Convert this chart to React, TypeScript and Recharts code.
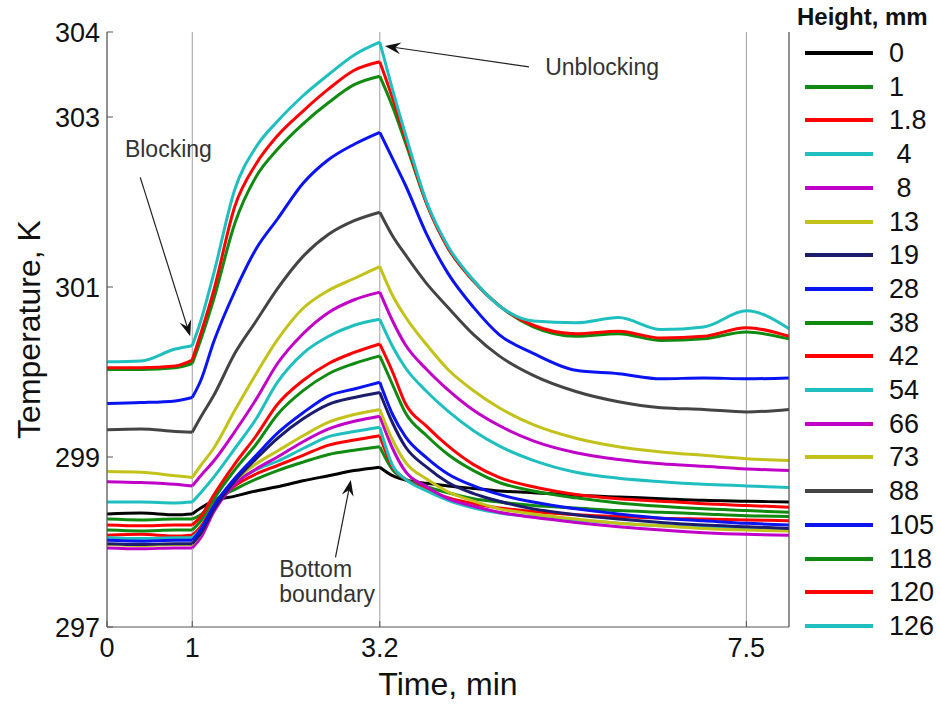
import { LineChart, Line, XAxis, YAxis, CartesianGrid, ReferenceLine, ReferenceDot } from 'recharts'

// time axis, min
const times = [0, 0.4, 0.8, 1, 1.1, 1.25, 1.5, 1.75, 2, 2.3, 2.6, 2.9, 3.2, 3.35, 3.5, 3.75, 4, 4.3, 4.6, 5, 5.5, 6, 6.5, 7, 7.5, 8]

// legend labels (height, mm) and line colours
const heights = ['0', '1', '1.8', ' 4', ' 8', '13', '19', '28', '38', '42', '54', '66', '73', '88', '105', '118', '120', '126']
const colors = ['#000000', '#108a10', '#ff0000', '#1fbfbf', '#c000c8', '#c2c21a', '#1c1c6e', '#0a14f0', '#108a10', '#ff0000', '#1fbfbf', '#c000c8', '#c2c21a', '#444444', '#0a14f0', '#108a10', '#ff0000', '#1fbfbf']

// temperature, K
const h0 = [298.33, 298.34, 298.32, 298.33, 298.4, 298.48, 298.54, 298.6, 298.65, 298.72, 298.78, 298.84, 298.88, 298.78, 298.73, 298.69, 298.66, 298.63, 298.6, 298.58, 298.55, 298.53, 298.51, 298.49, 298.48, 298.47]
const h1 = [298.27, 298.26, 298.27, 298.27, 298.32, 298.48, 298.62, 298.74, 298.84, 298.94, 299.03, 299.08, 299.12, 298.85, 298.74, 298.65, 298.58, 298.51, 298.47, 298.43, 298.4, 298.37, 298.35, 298.33, 298.31, 298.3]
const h1_8 = [298.08, 298.09, 298.07, 298.08, 298.18, 298.43, 298.66, 298.8, 298.9, 299.02, 299.14, 299.2, 299.25, 298.88, 298.74, 298.62, 298.52, 298.45, 298.4, 298.36, 298.32, 298.3, 298.28, 298.27, 298.26, 298.25]
const h4 = [298.05, 298.04, 298.05, 298.05, 298.15, 298.42, 298.7, 298.85, 298.95, 299.1, 299.24, 299.3, 299.35, 298.9, 298.74, 298.6, 298.49, 298.4, 298.34, 298.3, 298.26, 298.22, 298.19, 298.17, 298.16, 298.15]
const h8 = [297.93, 297.92, 297.93, 297.93, 298.05, 298.35, 298.68, 298.86, 299.0, 299.18, 299.33, 299.42, 299.48, 299.1, 298.83, 298.65, 298.51, 298.42, 298.35, 298.29, 298.23, 298.18, 298.14, 298.11, 298.09, 298.08]
const h13 = [297.97, 297.96, 297.97, 297.97, 298.1, 298.4, 298.72, 298.92, 299.07, 299.25, 299.41, 299.5, 299.56, 299.2, 298.94, 298.74, 298.59, 298.48, 298.39, 298.33, 298.27, 298.22, 298.19, 298.16, 298.14, 298.13]
const h19 = [297.98, 297.97, 297.98, 297.98, 298.1, 298.38, 298.72, 298.98, 299.22, 299.45, 299.62, 299.7, 299.76, 299.4, 299.12, 298.88, 298.7, 298.57, 298.48, 298.39, 298.32, 298.27, 298.23, 298.2, 298.18, 298.16]
const h28 = [298.02, 298.01, 298.02, 298.02, 298.15, 298.42, 298.75, 299.02, 299.28, 299.52, 299.72, 299.8, 299.88, 299.5, 299.24, 298.99, 298.8, 298.66, 298.56, 298.47, 298.39, 298.33, 298.28, 298.25, 298.22, 298.2]
const h38 = [298.14, 298.13, 298.14, 298.14, 298.25, 298.5, 298.85, 299.15, 299.5, 299.78, 299.98, 300.1, 300.19, 299.85, 299.52, 299.25, 299.03, 298.84, 298.7, 298.6, 298.52, 298.46, 298.42, 298.39, 298.37, 298.35]
const h42 = [298.2, 298.19, 298.2, 298.2, 298.3, 298.55, 298.92, 299.25, 299.62, 299.9, 300.1, 300.23, 300.33, 300.0, 299.63, 299.36, 299.13, 298.91, 298.76, 298.65, 298.56, 298.51, 298.48, 298.45, 298.43, 298.41]
const h54 = [298.47, 298.47, 298.46, 298.47, 298.58, 298.76, 299.1, 299.45, 299.88, 300.22, 300.42, 300.55, 300.62, 300.3, 300.05, 299.77, 299.54, 299.31, 299.13, 298.96, 298.82, 298.75, 298.71, 298.68, 298.66, 298.64]
const h66 = [298.71, 298.7, 298.68, 298.66, 298.78, 298.95, 299.3, 299.68, 300.1, 300.45, 300.7, 300.85, 300.94, 300.6, 300.32, 300.03, 299.79, 299.55, 299.37, 299.19, 299.05, 298.97, 298.92, 298.89, 298.86, 298.84]
const h73 = [298.83, 298.82, 298.78, 298.76, 298.9, 299.1, 299.55, 299.98, 300.38, 300.75, 300.96, 301.1, 301.24, 300.9, 300.65, 300.32, 300.03, 299.78, 299.58, 299.38, 299.22, 299.12, 299.06, 299.02, 298.98, 298.96]
const h88 = [299.32, 299.33, 299.3, 299.29, 299.47, 299.72, 300.22, 300.6, 300.98, 301.36, 301.62, 301.78, 301.88, 301.6, 301.38, 301.04, 300.76, 300.44, 300.19, 299.96, 299.77, 299.65, 299.58, 299.56, 299.53, 299.56]
const h105 = [299.63, 299.64, 299.66, 299.7, 299.9, 300.35, 300.95, 301.45, 301.8, 302.22, 302.5, 302.68, 302.82, 302.51, 302.2, 301.62, 301.16, 300.76, 300.44, 300.22, 300.02, 299.98, 299.92, 299.93, 299.92, 299.93]
const h118 = [300.03, 300.03, 300.05, 300.1, 300.38, 300.85, 301.75, 302.3, 302.62, 302.92, 303.17, 303.38, 303.48, 303.12, 302.7, 301.98, 301.46, 301.07, 300.78, 300.53, 300.42, 300.45, 300.37, 300.39, 300.47, 300.39]
const h120 = [300.05, 300.05, 300.07, 300.14, 300.45, 300.95, 301.95, 302.45, 302.78, 303.07, 303.33, 303.55, 303.65, 303.22, 302.75, 301.98, 301.46, 301.07, 300.78, 300.55, 300.45, 300.48, 300.4, 300.42, 300.52, 300.42]
const h126 = [300.12, 300.13, 300.27, 300.31, 300.6, 301.15, 302.15, 302.65, 302.95, 303.25, 303.5, 303.73, 303.88, 303.32, 302.8, 302.0, 301.48, 301.08, 300.78, 300.6, 300.58, 300.64, 300.5, 300.53, 300.72, 300.51]

const seriesValues = [h0, h1, h1_8, h4, h8, h13, h19, h28, h38, h42, h54, h66, h73, h88, h105, h118, h120, h126]

const xTicks = [0, 1, 3.2, 7.5]
const yTicks = [297, 299, 301, 303, 304]

// blocking / unblocking instants split each record into three smooth pieces
const tBlock = 1
const tUnblock = 3.2

// annotation arrows: [from, to] in (min, K)
const blockingArrow = [{ x: 0.39, y: 302.29 }, { x: 0.976, y: 300.42 }]
const unblockingArrow = [{ x: 4.95, y: 303.59 }, { x: 3.26, y: 303.835 }]
const bottomArrow = [{ x: 2.68, y: 297.82 }, { x: 2.86, y: 298.73 }]

const rows = times.map((t, i) => {
  const row: Record<string, number | undefined> = { t }
  seriesValues.forEach((v, k) => {
    row['a' + k] = t <= tBlock ? v[i] : undefined
    row['b' + k] = t >= tBlock && t <= tUnblock ? v[i] : undefined
    row['c' + k] = t >= tUnblock ? v[i] : undefined
  })
  return row
})

const font = '"Liberation Sans", Arial, sans-serif'

const Arrow = (props: any) => {
  const { x1, y1, x2, y2 } = props
  const a = Math.atan2(y2 - y1, x2 - x1)
  const c = Math.cos(a)
  const s = Math.sin(a)
  const len = 16
  const w = 6
  const bx = x2 - len * c
  const by = y2 - len * s
  const nx = x2 - len * 0.65 * c
  const ny = y2 - len * 0.65 * s
  const pts = `${x2},${y2} ${bx + w * s},${by - w * c} ${nx},${ny} ${bx - w * s},${by + w * c}`
  return (
    <g>
      <line x1={x1} y1={y1} x2={nx} y2={ny} stroke='#222' strokeWidth={1.2} />
      <polygon points={pts} fill='#111' />
    </g>
  )
}

const note = (lines: string[]) => (p: any) => (
  <text x={p.cx} y={p.cy} fontSize={23} fill='#333' fontFamily={font}>
    {lines.map((l, i) => (
      <tspan key={i} x={p.cx} dy={i === 0 ? 0 : 25}>
        {l}
      </tspan>
    ))}
  </text>
)

export default function App() {
  return (
    <div
      style={{
        position: 'absolute',
        left: 0,
        top: 0,
        width: 940,
        height: 704,
        background: '#fff',
        fontFamily: font,
      }}
    >
      <LineChart width={940} height={704} data={rows} margin={{ top: 32, right: 150, bottom: 0, left: 0 }}>
        <CartesianGrid horizontal={false} stroke='#a0a0a0' />
        <XAxis
          type='number'
          dataKey='t'
          domain={[0, 8]}
          ticks={xTicks}
          interval={0}
          height={77}
          tickSize={-6}
          tickMargin={17}
          stroke='#555'
          tick={{ fontSize: 27, fill: '#111' }}
          label={{
            content: (p: any) => (
              <text
                x={p.viewBox.x + p.viewBox.width / 2}
                y={p.viewBox.y + 68}
                textAnchor='middle'
                fontSize={32}
                fill='#111'
              >
                Time, min
              </text>
            ),
          }}
        />
        <XAxis xAxisId='t' orientation='top' type='number' domain={[0, 8]} ticks={xTicks} height={0} tick={false} tickLine={false} stroke='#555' />
        <YAxis
          type='number'
          domain={[297, 304]}
          ticks={yTicks}
          interval={0}
          width={107}
          tickSize={-6}
          tickMargin={13}
          stroke='#555'
          tick={{ fontSize: 27, fill: '#111' }}
          label={{
            content: (p: any) => {
              const cx = p.viewBox.x + 29
              const cy = p.viewBox.y + p.viewBox.height / 2
              return (
                <text
                  x={cx}
                  y={cy}
                  transform={`rotate(-90 ${cx} ${cy})`}
                  textAnchor='middle'
                  dominantBaseline='central'
                  fontSize={32}
                  fill='#111'
                >
                  Temperature, K
                </text>
              )
            },
          }}
        />
        <YAxis yAxisId='r' orientation='right' type='number' domain={[297, 304]} ticks={yTicks} width={1} tick={false} tickSize={-6} stroke='#555' />
        {seriesValues.map((_, k) =>
          ['a', 'b', 'c'].map((part) => (
            <Line
              key={part + k}
              type='monotone'
              dataKey={part + k}
              name={heights[k]}
              stroke={colors[k]}
              strokeWidth={3}
              dot={false}
              isAnimationActive={false}
            />
          ))
        )}
        <ReferenceLine segment={blockingArrow} shape={Arrow} />
        <ReferenceLine segment={unblockingArrow} shape={Arrow} />
        <ReferenceLine segment={bottomArrow} shape={Arrow} />
        <ReferenceDot x={0.21} y={302.53} shape={note(['Blocking'])} />
        <ReferenceDot x={5.14} y={303.49} shape={note(['Unblocking'])} />
        <ReferenceDot x={2.02} y={297.59} shape={note(['Bottom', 'boundary'])} />
      </LineChart>
      <div style={{ position: 'absolute', left: 797, top: 5, fontSize: 24, fontWeight: 'bold', lineHeight: '24px', color: '#111' }}>
        Height, mm
      </div>
      {heights.map((h, i) => {
        const cy = 53 + 33.7 * i
        return (
          <div key={i}>
            <div style={{ position: 'absolute', left: 805, top: cy - 2, width: 68, height: 4, background: colors[i] }} />
            <div
              style={{
                position: 'absolute',
                left: 889,
                top: cy - 13,
                fontSize: 27,
                lineHeight: '27px',
                whiteSpace: 'pre',
                color: '#111',
              }}
            >
              {h}
            </div>
          </div>
        )
      })}
    </div>
  )
}
